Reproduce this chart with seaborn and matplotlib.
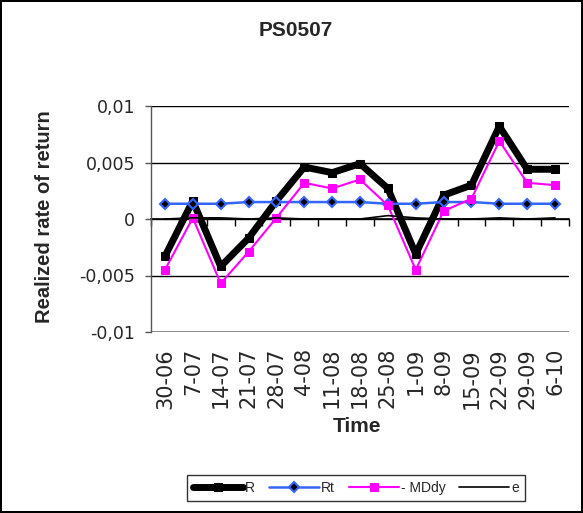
import matplotlib
matplotlib.use("Agg")
import matplotlib.pyplot as plt
import seaborn as sns
import numpy as np
import pandas as pd
from matplotlib.ticker import FuncFormatter

dates = ["30-06", "7-07", "14-07", "21-07", "28-07", "4-08", "11-08", "18-08",
         "25-08", "1-09", "8-09", "15-09", "22-09", "29-09", "6-10"]
R = [-0.0033, 0.0016, -0.0042, -0.0017, 0.0016, 0.0046, 0.0041, 0.0049,
     0.0027, -0.0031, 0.0021, 0.0030, 0.0082, 0.0044, 0.0044]
Rt = [0.00135, 0.00135, 0.00135, 0.0015, 0.0015, 0.0015, 0.0015, 0.0015,
      0.00135, 0.00135, 0.0015, 0.0015, 0.00135, 0.00135, 0.00135]
MDdy = [-0.0045, 0.0001, -0.0057, -0.0029, 0.0001, 0.0032, 0.0027, 0.0035,
        0.0012, -0.0045, 0.0007, 0.0018, 0.0069, 0.0032, 0.0030]
e = [0.0, 0.0001, 0.0001, 0.0, 0.0001, 0.0, 0.0, 0.0,
     0.0003, 0.0001, 0.0, 0.0, 0.0001, 0.0, 0.0001]
yticks = [-0.01, -0.005, 0, 0.005, 0.01]

sns.set_theme(style="white")
plt.rcParams['font.family'] = ['Liberation Sans', 'DejaVu Sans']

W, H = 583, 513
fig = plt.figure(figsize=(W / 100, H / 100), dpi=100)
fig.patch.set_facecolor("white")
fig.patch.set_edgecolor("black")
fig.patch.set_linewidth(1.5)

ax = fig.add_axes([151 / W, 1 - 332 / H, (569 - 151) / W, (332 - 106) / H])
pos = np.arange(len(dates))
df = pd.DataFrame({"pos": pos, "R": R, "Rt": Rt, "MDdy": MDdy, "e": e})

sns.lineplot(data=df, x="pos", y="R", ax=ax, color="black", lw=5, marker="s",
             markersize=6, markeredgecolor="black", label="R", zorder=3)
sns.lineplot(data=df, x="pos", y="Rt", ax=ax, color="#3366FF", lw=1.8, marker="D",
             markersize=5.5, markerfacecolor="black", markeredgecolor="#3366FF",
             markeredgewidth=1.5, label="Rt", zorder=4)
sns.lineplot(data=df, x="pos", y="MDdy", ax=ax, color="#FF00FF", lw=1.5, marker="s",
             markersize=5.5, markeredgecolor="#FF00FF", label="- MDdy", zorder=5)
sns.lineplot(data=df, x="pos", y="e", ax=ax, color="black", lw=1.2, label="e", zorder=6)

ax.set_xlim(-0.5, len(dates) - 0.5)
ax.set_ylim(yticks[0], yticks[-1])
ax.set_yticks(yticks)
ax.yaxis.set_major_formatter(FuncFormatter(lambda v, p: ("%g" % round(v, 4)).replace(".", ",")))
ax.set_xticks(pos)
ax.set_xticklabels(dates, rotation=90, fontsize=15, family="DejaVu Sans")
ax.tick_params(axis="x", length=0, pad=11.5)
ax.tick_params(axis="y", direction="out", length=4.5, width=1, color="#555555",
               labelsize=12.5, pad=7, left=True)
for lab in ax.get_yticklabels():
    lab.set_family("DejaVu Sans")

for yv in yticks[2:]:
    ax.axhline(yv, color="black", lw=1, zorder=1)
ax.axhline(yticks[1], color="black", lw=1, zorder=1)
ax.axhline(yticks[0], color="#777777", lw=1.2, zorder=1)

for s in ["top", "right", "bottom"]:
    ax.spines[s].set_visible(False)
ax.spines["left"].set_color("#555555")
ax.spines["left"].set_linewidth(1)

ax2 = ax.twiny()
ax2.set_xlim(ax.get_xlim())
ax2.spines["bottom"].set_position(("data", 0))
for s in ["top", "right", "left"]:
    ax2.spines[s].set_visible(False)
ax2.spines["bottom"].set_color("black")
ax2.spines["bottom"].set_linewidth(1.2)
ax2.xaxis.set_ticks_position("bottom")
ax2.set_xticks(np.arange(-0.5, len(dates) + 0.5, 1.0))
ax2.set_xticklabels([])
ax2.tick_params(axis="x", direction="out", length=5, width=1, color="black")
ax2.set_zorder(0)
ax.set_zorder(1)
ax.patch.set_visible(False)

ax.set_xlabel("")
ax.set_ylabel("")
fig.text(357 / W, 1 - 426 / H, "Time", ha="center", va="center", fontsize=15, fontweight="bold")
fig.text(45 / W, 1 - 216.5 / H, "Realized rate of return", ha="center", va="center",
         rotation=90, fontsize=14.5, fontweight="bold")
fig.text(296 / W, 1 - 31 / H, "PS0507", ha="center", va="center", fontsize=15, fontweight="bold")

handles, labels = ax.get_legend_handles_labels()
order = ["R", "Rt", "- MDdy", "e"]
hmap = dict(zip(labels, handles))
ax.legend([hmap[k] for k in order], order, loc="center", bbox_to_anchor=(356 / W, 1 - 488 / H),
          bbox_transform=fig.transFigure, ncol=4, frameon=True, fancybox=False,
          edgecolor="black", fontsize=10, handlelength=3.6, handletextpad=0.15,
          columnspacing=1.0, borderpad=0.45, borderaxespad=0)

fig.savefig("out.png", dpi=100)
